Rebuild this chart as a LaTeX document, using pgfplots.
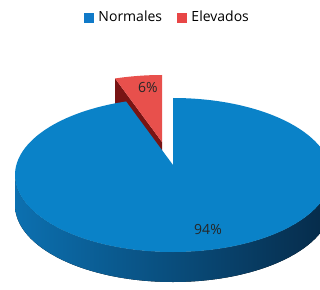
\documentclass[border=0pt]{standalone}
\usepackage{fontspec}
\setmainfont{Open Sans}
\usepackage{pgfplots}
\pgfplotsset{compat=1.18}
\usepackage{pgfplotstable}
\definecolor{bluetop}{RGB}{10,130,200}
\definecolor{sideleft}{RGB}{12,112,176}
\definecolor{sidemid}{RGB}{11,80,126}
\definecolor{sideright}{RGB}{6,42,72}
\definecolor{redtop}{RGB}{232,80,76}
\definecolor{reddark}{RGB}{120,20,20}
\definecolor{legblue}{RGB}{16,122,200}
\definecolor{legred}{RGB}{232,70,70}
\pgfplotstableread{
label value
Normales 94
Elevados 6
}\piedata
\begin{document}
\begin{tikzpicture}
\pgfplotstablegetelem{0}{value}\of\piedata \let\vN\pgfplotsretval
\pgfplotstablegetelem{1}{value}\of\piedata \let\vE\pgfplotsretval
% angle of the small slice edge (with perspective compression of the back)
\pgfmathsetmacro\angE{90+0.8*3.6*\vE}
\pgfmathsetmacro\angEb{\angE-360}
\pgfmathsetmacro\rlx{162+158*cos(\angE)}
\pgfmathsetmacro\rly{137+77*sin(\angE)}
\pgfmathsetmacro\rlyd{\rly-30}
\begin{axis}[
  at={(0,0)}, anchor=south west,
  width=320pt, height=289pt, scale only axis,
  xmin=0, xmax=320, ymin=0, ymax=289,
  enlargelimits=false, hide axis, clip=true,
  legend style={at={(axis cs:169,282)}, anchor=north, draw=none, fill=none,
    legend columns=2, font=\fontsize{14}{16}\selectfont,
    nodes={inner xsep=5pt},
    /tikz/every even column/.append style={column sep=10pt}},
]
\addlegendimage{legend image code/.code={\fill[legblue] (0pt,-4.5pt) rectangle (9pt,4.5pt);}}
\addlegendentry{Normales}
\addlegendimage{legend image code/.code={\fill[legred] (0pt,-4.5pt) rectangle (9pt,4.5pt);}}
\addlegendentry{Elevados}
% small (exploded) slice
\fill[reddark] (axis cs:\rlx,\rly) -- (axis cs:162,147) -- (axis cs:162,117) -- (axis cs:\rlx,\rlyd) -- cycle;
\fill[redtop] (axis cs:162,147) -- (axis cs:162,214) arc[start angle=90, end angle=\angE, x radius=158, y radius=77] -- cycle;
% large slice: side
\fill[left color=sideleft, middle color=sidemid, right color=sideright] (axis cs:15,114) arc[start angle=180, end angle=360, x radius=158, y radius=77] -- (axis cs:331,84) arc[start angle=360, end angle=180, x radius=158, y radius=77] -- cycle;
% large slice: top
\fill[bluetop] (axis cs:173,124) -- (axis cs:173,191) arc[start angle=90, end angle=\angEb, x radius=158, y radius=77] -- cycle;
\node[font=\fontsize{14}{16}\selectfont, text=black!85] at (axis cs:148,201) {\vE\%};
\node[font=\fontsize{14}{16}\selectfont, text=black!85] at (axis cs:208,60) {\vN\%};
\end{axis}
\pgfresetboundingbox
\path (0,0) rectangle (320pt,289pt);
\end{tikzpicture}
\end{document}
